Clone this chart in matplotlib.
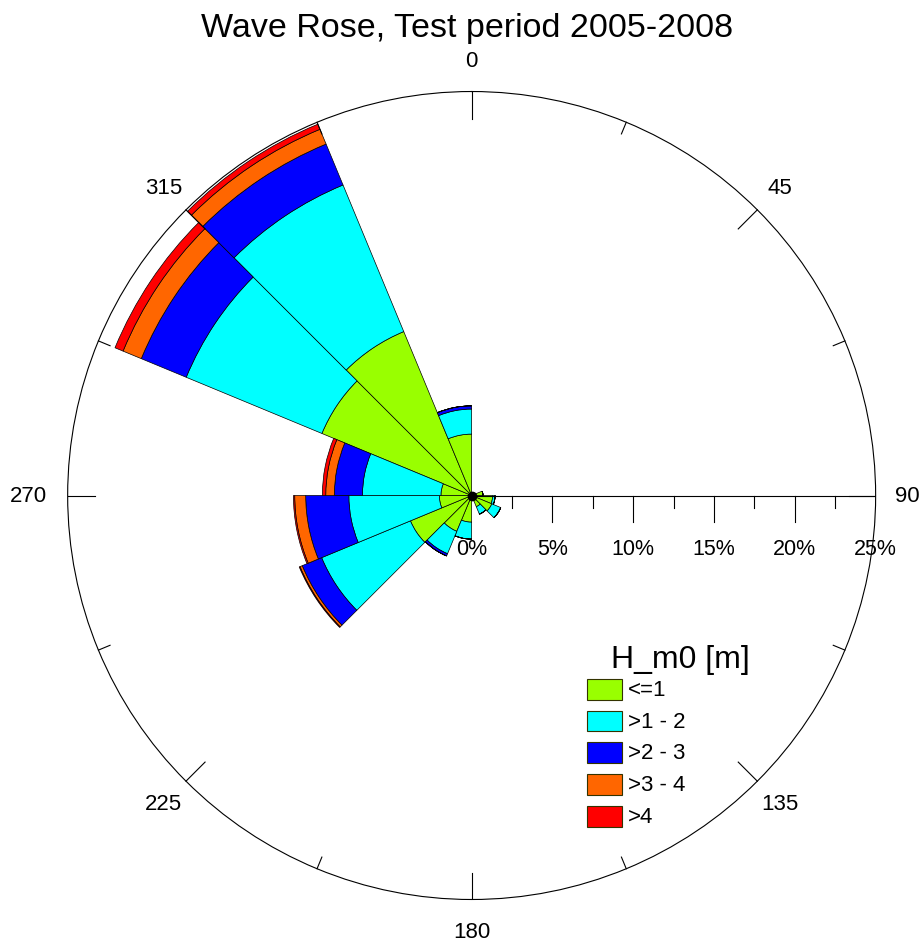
import numpy as np
import matplotlib
matplotlib.use("Agg")
import matplotlib.pyplot as plt
from matplotlib.patches import Rectangle

plt.rcParams['font.family'] = ['Liberation Sans', 'DejaVu Sans']

# direction bins (start angle, deg clockwise from north), each 22.5 deg wide
dir_start = [0, 22.5, 45, 67.5, 90, 112.5, 135, 157.5,
             180, 202.5, 225, 247.5, 270, 292.5, 315, 337.5]

# frequency [%] per wave height class, per direction bin
h_le1 = [0, 0, 0, 0.7, 1.3, 1.35, 0.75, 0, 1.65, 2.4, 4.1, 2.0, 1.9, 10.03, 10.98, 3.8]
h_1_2 = [0, 0, 0, 0, 0.15, 0.6, 0.5, 0, 1.05, 1.5, 5.95, 5.6, 4.86, 9.09, 9.82, 1.55]
h_2_3 = [0, 0, 0, 0, 0, 0, 0, 0, 0, 0.15, 1.3, 2.67, 1.74, 3.01, 2.74, 0.2]
h_3_4 = [0, 0, 0, 0, 0, 0, 0, 0, 0, 0, 0.15, 0.68, 0.53, 1.22, 0.99, 0]
h_gt4 = [0, 0, 0, 0, 0, 0, 0, 0, 0, 0, 0.05, 0.08, 0.21, 0.54, 0.34, 0]

class_labels = ['<=1', '>1 - 2', '>2 - 3', '>3 - 4', '>4']
class_colors = ['#99ff00', '#00ffff', '#0000ff', '#ff6600', '#ff0000']

rmax = 25
radial_ticks = [0, 5, 10, 15, 20, 25]
dir_labels = [0, 45, 90, 135, 180, 225, 270, 315]

fig = plt.figure(figsize=(9.23, 9.45), dpi=100)
rect = [0.0733, 0.0471, 0.8754, 0.855]

# the rose itself
ax = fig.add_axes(rect, projection='polar')
ax.set_theta_zero_location('N')
ax.set_theta_direction(-1)
ax.set_ylim(0, rmax)
ax.grid(False)
ax.set_xticks([])
ax.set_yticks([])
ax.spines['polar'].set_linewidth(0.8)

theta = np.deg2rad(dir_start)
bottom = np.zeros(len(dir_start))
for vals, col in zip([h_le1, h_1_2, h_2_3, h_3_4, h_gt4], class_colors):
    vals = np.array(vals)
    ax.bar(theta, vals, width=np.deg2rad(22.5), bottom=bottom, align='edge',
           color=col, edgecolor='black', linewidth=0.5)
    bottom += vals

# overlay for the axis, ticks and labels
ax2 = fig.add_axes(rect)
ax2.set_xlim(-rmax, rmax)
ax2.set_ylim(-rmax, rmax)
ax2.axis('off')

# radial scale along 90 deg
ax2.plot([0, rmax], [0, 0], color='black', lw=0.8)
for v in np.arange(2.5, rmax + 0.1, 2.5):
    L = 1.67 if v % 5 == 0 else 0.78
    ax2.plot([v, v], [0, -L], color='black', lw=0.8)
for v in radial_ticks:
    ax2.text(v, -3.3, f'{v}%', ha='center', va='center', fontsize=15.5)

# ticks on the outer circle
for a in np.arange(0, 360, 22.5):
    L = 1.67 if a % 45 == 0 else 0.78
    s, c = np.sin(np.deg2rad(a)), np.cos(np.deg2rad(a))
    ax2.plot([rmax * s, (rmax - L) * s], [rmax * c, (rmax - L) * c], color='black', lw=0.8)

for a in dir_labels:
    r = 27.4 if a == 270 else 26.95
    s, c = np.sin(np.deg2rad(a)), np.cos(np.deg2rad(a))
    ax2.text(r * s, r * c, str(a), ha='center', va='center', fontsize=16)

ax2.plot(0, 0, 'o', color='black', ms=6)

fig.text(0.506, 1 - 37 / 945, 'Wave Rose, Test period 2005-2008',
         ha='center', va='baseline', fontsize=24.5)

# legend
fig.text(680.5 / 923, 1 - 668 / 945, 'H_m0 [m]', ha='center', va='baseline', fontsize=23)
for i, (lab, col) in enumerate(zip(class_labels, class_colors)):
    top = 680 + i * 31.7
    fig.patches.append(Rectangle((587.3 / 923, 1 - (top + 20.7) / 945), 34.4 / 923, 20.7 / 945,
                                 transform=fig.transFigure, facecolor=col,
                                 edgecolor='#333300', linewidth=0.8))
    fig.text(628.3 / 923, 1 - (top + 10.3) / 945, lab, ha='left', va='center', fontsize=16)

fig.savefig('out.png', dpi=100)
